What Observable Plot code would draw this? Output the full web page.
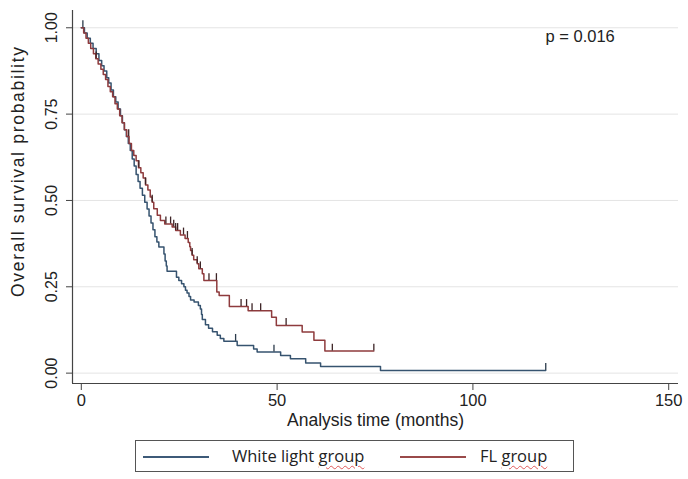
<!DOCTYPE html>
<html>
<head>
<meta charset="utf-8">
<script src="https://cdn.jsdelivr.net/npm/d3@7"></script>
<script src="https://cdn.jsdelivr.net/npm/@observablehq/plot@0.6"></script>
<style>
  html, body { margin: 0; padding: 0; background: #fff; }
  #wrap { position: relative; width: 688px; height: 479px; font-family: "Liberation Sans", Arial, sans-serif; }
  #legend { position: absolute; left: 135px; top: 440px; width: 439px; height: 32px; border: 1px solid #555; box-sizing: border-box; font-family: "Open Sans", "Liberation Sans", sans-serif; font-size: 16.5px; color: #222; }
  .sw { position: absolute; top: 15px; height: 1.6px; }
  .lt { position: absolute; top: 3px; white-space: nowrap; }
  .sq { text-decoration: underline wavy #e05a5a; text-decoration-thickness: 1px; text-underline-offset: 3px; }
</style>
</head>
<body>
<div id="wrap">
  <div id="chart"></div>
  <div id="legend">
    <div class="sw" style="left:7px; width:66px; background:#3d5a78;"></div>
    <div class="lt" style="left:96px;">White light <span class="sq">group</span></div>
    <div class="sw" style="left:264px; width:66px; background:#9a4a4a;"></div>
    <div class="lt" style="left:344px;">FL <span class="sq">group</span></div>
  </div>
</div>
<script>
// ---- Data ----
const seriesNames = ["White light group", "FL group"];

const whiteTime = [0, 0.8, 1.5, 2.3, 3.0, 3.8, 4.5, 5.2, 5.8, 6.5, 7.0, 7.6, 8.2, 8.8, 9.4, 10.0, 10.5, 11.0, 11.5, 12.0, 12.5, 13.0, 13.5, 14.0, 14.5, 15.0, 15.6, 16.2, 16.8, 17.3, 17.8, 18.3, 18.8, 19.3, 19.8, 21.1, 21.4, 21.7, 21.9, 24.3, 24.9, 25.6, 26.2, 26.6, 27.0, 27.5, 27.9, 28.8, 29.9, 30.4, 30.7, 30.9, 31.7, 32.5, 33.5, 34.7, 35.5, 36.4, 39.8, 44.0, 44.9, 50.9, 53.4, 57.3, 61.1, 76.4];
const whiteSurv = [1.0, 0.985, 0.97, 0.955, 0.94, 0.925, 0.905, 0.89, 0.875, 0.855, 0.84, 0.82, 0.80, 0.785, 0.765, 0.745, 0.725, 0.705, 0.685, 0.665, 0.645, 0.62, 0.60, 0.575, 0.555, 0.535, 0.515, 0.495, 0.475, 0.455, 0.435, 0.415, 0.395, 0.38, 0.365, 0.345, 0.325, 0.31, 0.295, 0.278, 0.268, 0.259, 0.25, 0.24, 0.232, 0.222, 0.212, 0.206, 0.196, 0.186, 0.17, 0.155, 0.14, 0.13, 0.12, 0.11, 0.10, 0.092, 0.08, 0.07, 0.061, 0.051, 0.042, 0.029, 0.019, 0.008];
const whiteEnd = 118.6;
const whiteCensor = [0.4, 39.4, 49.2, 118.6];

const flTime = [0, 0.6, 1.2, 1.8, 2.4, 3.1, 3.7, 4.3, 5.0, 5.6, 6.2, 6.8, 7.4, 8.0, 8.6, 9.2, 9.8, 10.4, 11.0, 11.6, 12.2, 12.8, 13.4, 14.0, 14.6, 15.2, 15.8, 16.4, 17.0, 17.6, 18.1, 18.5, 19.4, 20.2, 21.3, 23.2, 24.1, 25.3, 26.5, 27.3, 27.7, 27.9, 28.3, 28.7, 29.6, 30.0, 30.9, 31.3, 34.6, 35.2, 37.8, 42.6, 48.6, 49.8, 56.4, 59.4, 62.2];
const flSurv = [1.0, 0.985, 0.97, 0.955, 0.94, 0.925, 0.91, 0.895, 0.88, 0.865, 0.85, 0.83, 0.815, 0.80, 0.78, 0.765, 0.745, 0.725, 0.705, 0.685, 0.665, 0.645, 0.63, 0.615, 0.595, 0.58, 0.565, 0.545, 0.53, 0.51, 0.495, 0.476, 0.457, 0.442, 0.432, 0.423, 0.413, 0.40, 0.39, 0.378, 0.366, 0.355, 0.341, 0.328, 0.317, 0.302, 0.288, 0.268, 0.235, 0.225, 0.193, 0.181, 0.162, 0.138, 0.119, 0.095, 0.064];
const flEnd = 74.7;
const flCensor = [3.8, 12.1, 14.7, 16.4, 18.1, 21.6, 22.8, 23.6, 24.1, 24.6, 26.1, 27.1, 28.3, 29.6, 30.4, 32.6, 34.5, 40.8, 42.2, 43.6, 45.8, 52.3, 64.1, 74.7];

const xTicks = [0, 50, 100, 150];
const yTicks = [0, 0.25, 0.5, 0.75, 1.0];
const xDomain = [-2.25, 152.5];
const yDomain = [-0.03, 1.05];
const pValueText = "p = 0.016";
const xLabel = "Analysis time (months)";
const yLabel = "Overall survival probability";

// ---- Build tables ----
function stepRows(name, times, surv, end) {
  const rows = times.map((t, i) => ({group: name, t, s: surv[i]}));
  rows.push({group: name, t: end, s: surv[surv.length - 1]});
  return rows;
}
function survAt(times, surv, c) {
  let v = surv[0];
  for (let i = 0; i < times.length; i++) if (times[i] <= c) v = surv[i];
  return v;
}
function censorRows(name, times, surv, cens) {
  return cens.map(c => ({group: name, t: c, s: survAt(times, surv, c)}));
}

const lines = [
  ...stepRows(seriesNames[0], whiteTime, whiteSurv, whiteEnd),
  ...stepRows(seriesNames[1], flTime, flSurv, flEnd)
];
const censors = [
  ...censorRows(seriesNames[0], whiteTime, whiteSurv, whiteCensor),
  ...censorRows(seriesNames[1], flTime, flSurv, flCensor)
];

const colors = {"White light group": "#36536f", "FL group": "#8e3b3d"};
const censorColors = {"White light group": "#2b3b4b", "FL group": "#3d2426"};

const plot = Plot.plot({
  width: 688,
  height: 430,
  marginLeft: 72,
  marginRight: 10,
  marginTop: 10,
  marginBottom: 47,
  style: {fontFamily: "'Liberation Sans', Arial, sans-serif", fontSize: "16px", color: "#333", background: "#fff"},
  x: {domain: xDomain},
  y: {domain: yDomain},
  marks: [
    Plot.gridY(yTicks, {stroke: "#e4e4e4", strokeOpacity: 1, strokeWidth: 1}),
    Plot.ruleX([xDomain[0]], {stroke: "#444", strokeWidth: 1.2}),
    Plot.ruleY([yDomain[0]], {stroke: "#444", strokeWidth: 1.2}),
    Plot.axisX(xTicks, {tickSize: 7, tickPadding: 4, stroke: "#444", fill: "#222", fontSize: 16.5, label: null, tickFormat: d => String(d)}),
    Plot.axisY(yTicks, {tickSize: 6, tickPadding: 10, tickRotate: -90, stroke: "#444", fill: "#222", fontSize: 16, label: null, tickFormat: d3.format(".2f")}),
    Plot.text([xLabel], {frameAnchor: "bottom", lineAnchor: "middle", dy: 37, fontSize: 17.5, fill: "#222"}),
    Plot.text([yLabel], {frameAnchor: "left", textAnchor: "middle", lineAnchor: "middle", rotate: -90, dx: -54, dy: -25, fontSize: 17.5, fill: "#222", className: "ylab"}),
    Plot.line(lines, {x: "t", y: "s", z: "group", stroke: d => colors[d.group], curve: "step-after", strokeWidth: 1.5}),
    Plot.ruleX(censors, {x: "t", y1: "s", y2: d => d.s + 0.02, stroke: d => censorColors[d.group], strokeWidth: 1.3}),
    Plot.text([pValueText], {frameAnchor: "top-left", lineAnchor: "middle", dx: 473, dy: 26, textAnchor: "start", fontSize: 16.5, fill: "#222"})
  ]
});
// stretch the y title like the reference's spacing
d3.select(plot).selectAll(".ylab text").attr("textLength", 250).attr("lengthAdjust", "spacing");
document.getElementById("chart").appendChild(plot);
</script>
</body>
</html>
